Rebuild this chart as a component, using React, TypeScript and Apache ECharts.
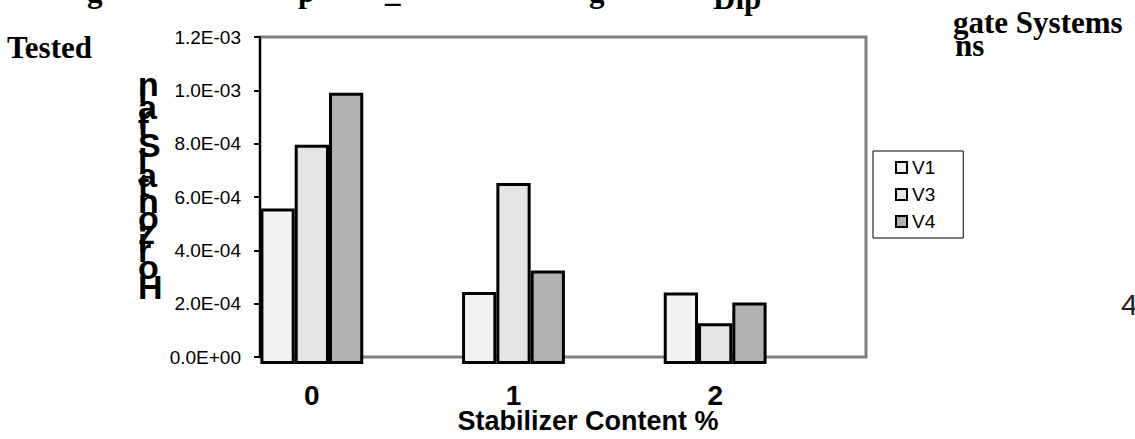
import React, { useEffect, useRef } from "react";
import * as echarts from "echarts";

// Stabilizer content (%) groups and the horizontal strain per aggregate system
const CATEGORIES = ["0", "1", "2"];
const SERIES_NAMES = ["V1", "V3", "V4"];
const V1 = [5.71e-4, 2.64e-4, 2.62e-4];
const V3 = [8.05e-4, 6.64e-4, 1.5e-4];
const V4 = [9.95e-4, 3.43e-4, 2.26e-4];
const Y_TICKS = { min: 0, max: 1.2e-3, interval: 2e-4 };

const X_TITLE = "Stabilizer Content %";
const Y_TITLE = "Horizontal Strain";

const SANS = '"Liberation Sans", Arial, sans-serif';
const SERIF = '"Liberation Serif", "Times New Roman", serif';

const FILLS = ["#f2f2f2", "#e5e5e5", "#b2b2b2"];

// 1.2E-03 style scientific labels with a two digit exponent
function sci(v: number): string {
  if (v === 0) return "0.0E+00";
  const [m, e] = v.toExponential(1).split("e");
  const n = parseInt(e, 10);
  return `${m}E${n < 0 ? "-" : "+"}${String(Math.abs(n)).padStart(2, "0")}`;
}

// Upright glyphs stacked bottom-to-top along the value axis
function stackedTitle(text: string, x: number, baseline: number, size: number, squeeze: number) {
  const ctx = document.createElement("canvas").getContext("2d")!;
  ctx.font = `bold ${size}px "Liberation Sans"`;
  const out: any[] = [];
  let cum = 0;
  for (const ch of text) {
    out.push({
      type: "text",
      x,
      y: baseline + size * 0.18 - cum * squeeze,
      style: {
        text: ch,
        fontFamily: SANS,
        fontWeight: "bold",
        fontSize: size,
        fill: "#000",
        verticalAlign: "bottom",
      },
    });
    cum += ctx.measureText(ch).width;
  }
  return out;
}

function serifText(text: string, x: number, baseline: number, size = 31, align = "left") {
  return {
    type: "text",
    x,
    y: baseline + size * 0.2,
    style: {
      text,
      fontFamily: SERIF,
      fontWeight: "bold",
      fontSize: size,
      fill: "#000",
      align,
      verticalAlign: "bottom",
    },
  };
}

export default function App() {
  const ref = useRef<HTMLDivElement>(null);

  useEffect(() => {
    if (!ref.current) return;
    const chart = echarts.init(ref.current, undefined, { renderer: "svg" });

    const values = [V1, V3, V4];

    const option: any = {
      animation: false,
      backgroundColor: "#fff",
      grid: [
        {
          left: 260,
          right: 269,
          top: 37,
          bottom: 75,
          show: true,
          borderColor: "#808080",
          borderWidth: 3,
          backgroundColor: "transparent",
        },
        { left: 211, right: 319, top: 37, bottom: 75 },
      ],
      xAxis: [
        {
          gridIndex: 0,
          type: "category",
          data: CATEGORIES,
          axisLine: { show: false },
          axisTick: { show: false },
          axisLabel: { show: false },
          name: X_TITLE,
          nameLocation: "middle",
          nameGap: 50,
          nameTextStyle: {
            fontFamily: SANS,
            fontSize: 27,
            fontWeight: "bold",
            color: "#000",
            padding: [0, 0, 0, 50],
          },
        },
        {
          gridIndex: 1,
          type: "category",
          data: CATEGORIES,
          axisLine: { show: false },
          axisTick: { show: false },
          axisLabel: {
            fontFamily: SANS,
            fontSize: 28,
            fontWeight: "bold",
            color: "#000",
            margin: 17,
          },
        },
      ],
      yAxis: [
        {
          gridIndex: 0,
          type: "value",
          min: Y_TICKS.min,
          max: Y_TICKS.max,
          interval: Y_TICKS.interval,
          axisLine: { show: true, lineStyle: { color: "#000", width: 2 } },
          axisTick: { show: true, length: 6, lineStyle: { color: "#000", width: 2 } },
          splitLine: { show: false },
          axisLabel: {
            formatter: sci,
            fontFamily: SANS,
            fontSize: 19,
            color: "#000",
            margin: 19,
          },
        },
        {
          gridIndex: 1,
          type: "value",
          min: Y_TICKS.min,
          max: Y_TICKS.max,
          interval: Y_TICKS.interval,
          show: false,
        },
      ],
      legend: {
        data: SERIES_NAMES,
        orient: "vertical",
        left: 873,
        top: 151,
        padding: [7, 28, 7, 22],
        itemWidth: 11,
        itemHeight: 11,
        itemGap: 8,
        icon: "rect",
        backgroundColor: "#fff",
        borderColor: "#000",
        borderWidth: 1,
        borderRadius: 0,
        textStyle: { fontFamily: SANS, fontSize: 19, color: "#000" },
      },
      series: SERIES_NAMES.map((name, i) => ({
        name,
        type: "bar",
        xAxisIndex: 1,
        yAxisIndex: 1,
        data: values[i],
        barGap: "0%",
        barCategoryGap: "49%",
        itemStyle: { color: FILLS[i], borderColor: "#000", borderWidth: 3 },
      })),
      graphic: [
        // surrounding caption lines of the page, mostly hidden behind the chart
        serifText("g", 87, 1),
        serifText("p", 298, 1),
        serifText("_", 385, 1),
        serifText("g", 589, 1),
        serifText("Dip", 713, 8),
        serifText("gate Systems", 953, 32),
        serifText("Tested", 7, 57),
        serifText("ns", 955, 55),
        {
          type: "text",
          x: 1121,
          y: 313 + 6,
          style: {
            text: "4",
            fontFamily: SANS,
            fontSize: 30,
            fill: "#222",
            verticalAlign: "bottom",
          },
        },
        ...stackedTitle(Y_TITLE, 138, 298, 34, 0.81),
      ],
    };

    chart.setOption(option);
    return () => chart.dispose();
  }, []);

  return (
    <div
      ref={ref}
      style={{ position: "absolute", left: 0, top: 0, width: 1135, height: 439 }}
    />
  );
}
